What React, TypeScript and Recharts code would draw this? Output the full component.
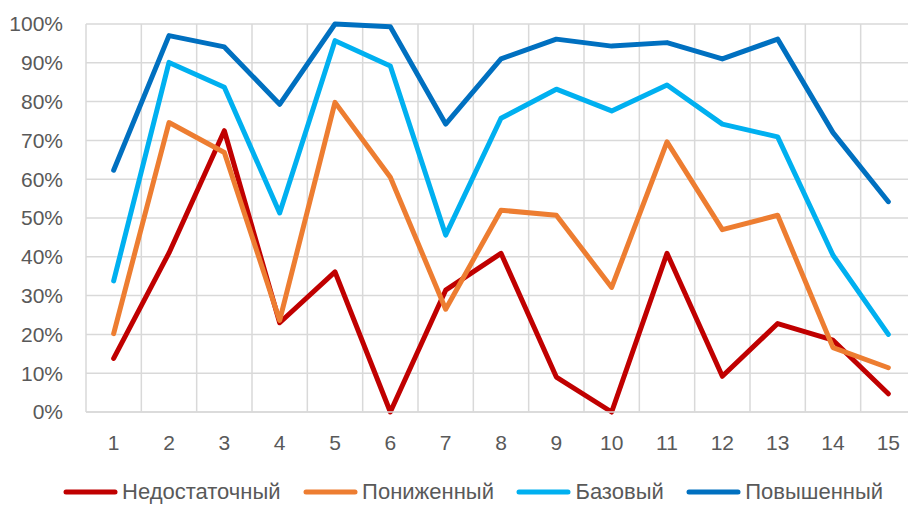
import React from "react";
import { LineChart, Line, XAxis, YAxis, CartesianGrid, Legend } from "recharts";

const categories = [1, 2, 3, 4, 5, 6, 7, 8, 9, 10, 11, 12, 13, 14, 15];
const nedostatochny = [13.8, 41, 72.5, 23, 36.1, 0, 31.4, 40.9, 9, 0, 40.9, 9.2, 22.8, 18.5, 4.7];
const ponizhenny = [20.2, 74.6, 66.9, 23.6, 79.8, 60.5, 26.5, 52, 50.7, 32.1, 69.6, 47, 50.7, 16.6, 11.4];
const bazovy = [33.8, 90.1, 83.7, 51.3, 95.7, 89.2, 45.6, 75.7, 83.2, 77.6, 84.3, 74.2, 70.9, 40.4, 20];
const povyshenny = [62.3, 97, 94.1, 79.3, 100, 99.3, 74.2, 91, 96.1, 94.3, 95.2, 91, 96.1, 72, 54.2];
const yTicks = [0, 10, 20, 30, 40, 50, 60, 70, 80, 90, 100];

const series = [
  { key: "ned", name: "Недостаточный", color: "#C00000", values: nedostatochny },
  { key: "pon", name: "Пониженный", color: "#ED7D31", values: ponizhenny },
  { key: "baz", name: "Базовый", color: "#00B0F0", values: bazovy },
  { key: "pov", name: "Повышенный", color: "#0070C0", values: povyshenny },
];

const data = categories.map((c, i) => {
  const row: Record<string, number> = { x: c };
  series.forEach((s) => {
    row[s.key] = s.values[i];
  });
  return row;
});

const FONT = "'Liberation Sans', Arial, sans-serif";
const TEXT = "#595959";
const FS = 21;
const LFS = 22;

const renderLegend = () => (
  <div style={{ display: "flex", alignItems: "center", fontFamily: FONT, fontSize: LFS, color: TEXT, lineHeight: "25px", height: 25, whiteSpace: "nowrap" }}>
    {series.map((s) => (
      <div key={s.key} style={{ display: "flex", alignItems: "center", marginRight: 22.5 }}>
        <svg width={55} height={10} style={{ marginRight: 4 }}>
          <line x1={3} y1={5} x2={52} y2={5} stroke={s.color} strokeWidth={5} strokeLinecap="round" />
        </svg>
        <span>{s.name}</span>
      </div>
    ))}
  </div>
);

export default function App() {
  return (
    <div style={{ position: "absolute", left: 0, top: 0, width: 908, height: 505, overflow: "hidden", background: "#fff" }}>
      <LineChart width={916} height={505} data={data} margin={{ top: 24, right: 0, left: 0, bottom: 0 }}>
        <CartesianGrid
          stroke="#D9D9D9"
          strokeWidth={1.5}
          verticalCoordinatesGenerator={({ offset }: any) =>
            Array.from({ length: 16 }, (_, i) => offset.left + (i * offset.width) / 15)
          }
        />
        <XAxis
          dataKey="x"
          type="number"
          domain={[0.5, 15.5]}
          ticks={categories}
          height={93}
          axisLine={{ stroke: "#D9D9D9", strokeWidth: 1.5 }}
          tickLine={false}
          tickSize={0}
          tickMargin={23}
          tick={{ fill: TEXT, fontSize: FS, fontFamily: FONT }}
        />
        <YAxis
          type="number"
          domain={[0, 100]}
          ticks={yTicks}
          width={86}
          axisLine={false}
          tickLine={false}
          tickSize={0}
          tickMargin={23}
          tickFormatter={(v: number) => `${v}%`}
          tick={{ fill: TEXT, fontSize: FS, fontFamily: FONT }}
        />
        <Legend
          layout="horizontal"
          verticalAlign="middle"
          align="center"
          content={renderLegend}
          wrapperStyle={{ top: 479, left: 63, width: 860 }}
        />
        {series.map((s) => (
          <Line
            key={s.key}
            dataKey={s.key}
            name={s.name}
            stroke={s.color}
            strokeWidth={5}
            strokeLinecap="round"
            strokeLinejoin="round"
            dot={false}
            activeDot={false}
            isAnimationActive={false}
          />
        ))}
      </LineChart>
    </div>
  );
}
